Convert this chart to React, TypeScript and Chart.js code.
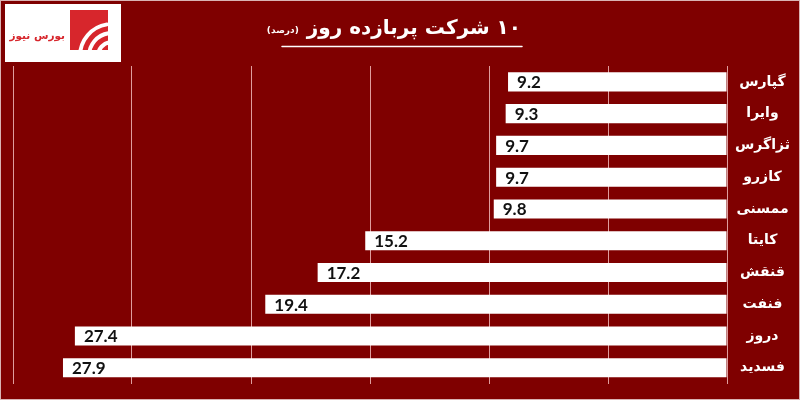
import React, { useEffect, useRef } from "react";
import { Chart, registerables } from "chart.js";

Chart.register(...registerables);

const categories = ["گپارس", "وایرا", "ثزاگرس", "کازرو", "ممسنی", "کایتا", "قنقش", "فنفت", "دروز", "فسدید"];
const values = [9.2, 9.3, 9.7, 9.7, 9.8, 15.2, 17.2, 19.4, 27.4, 27.9];
const titleMain = "۱۰ شرکت پربازده روز";
const titleUnit = "(درصد)";
const logoText = "بورس نیوز";

const BG = "#7f0000";

const decorPlugin = {
  id: "decor",
  beforeDraw(chart: any) {
    const { ctx, width, height } = chart;
    ctx.save();
    ctx.fillStyle = BG;
    ctx.fillRect(0, 0, width, height);
    // outer border
    ctx.strokeStyle = "#d9b3b3";
    ctx.lineWidth = 1;
    ctx.strokeRect(0.5, 0.5, width - 1, height - 1);
    // logo
    ctx.fillStyle = "#ffffff";
    ctx.fillRect(5, 4, 116, 58);
    ctx.fillStyle = "#d7262c";
    ctx.fillRect(70, 10, 38, 40);
    ctx.strokeStyle = "#ffffff";
    ctx.lineCap = "round";
    for (let i = 0; i < 3; i++) {
      ctx.lineWidth = 4;
      ctx.beginPath();
      ctx.arc(112, 56, 14 + i * 9, Math.PI, Math.PI * 1.45);
      ctx.stroke();
    }
    ctx.direction = "rtl";
    ctx.fillStyle = "#d7262c";
    ctx.textAlign = "right";
    ctx.textBaseline = "middle";
    let fs = 16;
    ctx.font = `bold ${fs}px 'DejaVu Sans'`;
    while (ctx.measureText(logoText).width > 56 && fs > 6) {
      fs -= 0.5;
      ctx.font = `bold ${fs}px 'DejaVu Sans'`;
    }
    ctx.fillText(logoText, 65, 36);
    // title
    ctx.fillStyle = "#ffffff";
    ctx.textBaseline = "alphabetic";
    ctx.textAlign = "right";
    ctx.font = "bold 20px 'DejaVu Sans'";
    const mainW = ctx.measureText(titleMain).width;
    ctx.fillText(titleMain, 521, 34);
    ctx.font = "bold 9px 'DejaVu Sans'";
    ctx.fillText(titleUnit, 521 - mainW - 8, 33);
    ctx.direction = "ltr";
    ctx.strokeStyle = "#ffffff";
    ctx.lineWidth = 1.5;
    ctx.beginPath();
    ctx.moveTo(282, 46.5);
    ctx.lineTo(522, 46.5);
    ctx.stroke();
    ctx.restore();
  },
};

const valueLabelPlugin = {
  id: "valueLabels",
  afterDatasetsDraw(chart: any) {
    const { ctx } = chart;
    const meta = chart.getDatasetMeta(0);
    ctx.save();
    ctx.fillStyle = "#111111";
    ctx.font = "bold 17px Lato";
    ctx.textAlign = "left";
    ctx.textBaseline = "middle";
    meta.data.forEach((bar: any, i: number) => {
      ctx.fillText(String(values[i]), bar.x + 9, bar.y + 1);
    });
    ctx.restore();
  },
};

export default function App() {
  const ref = useRef<HTMLCanvasElement>(null);
  useEffect(() => {
    document.body.style.margin = "0";
    const chart = new Chart(ref.current!, {
      type: "bar",
      data: {
        labels: categories,
        datasets: [
          {
            data: values,
            backgroundColor: "#ffffff",
            borderWidth: 0,
            categoryPercentage: 1,
            barPercentage: 0.6,
          },
        ],
      },
      options: {
        indexAxis: "y",
        responsive: false,
        animation: false,
        layout: { padding: { left: 13, right: 0, top: 66, bottom: 14 } },
        plugins: { legend: { display: false }, tooltip: { enabled: false }, title: { display: false } },
        scales: {
          x: {
            reverse: true,
            min: 0,
            max: 30,
            ticks: { display: false, stepSize: 5 },
            grid: { color: "rgba(255,210,210,0.75)", lineWidth: 1, drawTicks: false },
            border: { display: false },
            afterFit(scale: any) {
              scale.height = 0;
            },
          },
          y: {
            position: "right",
            grid: { display: false, drawTicks: false },
            border: { display: false },
            ticks: {
              color: "#ffffff",
              font: { family: "'DejaVu Sans'", weight: "bold", size: 14 },
              crossAlign: "center",
              padding: 8,
            },
            afterFit(scale: any) {
              scale.width = 73;
            },
          },
        },
      },
      plugins: [decorPlugin, valueLabelPlugin],
    });
    return () => chart.destroy();
  }, []);
  return (
    <div style={{ width: 800, height: 400 }}>
      <canvas ref={ref} width={800} height={400} style={{ display: "block" }} />
    </div>
  );
}
